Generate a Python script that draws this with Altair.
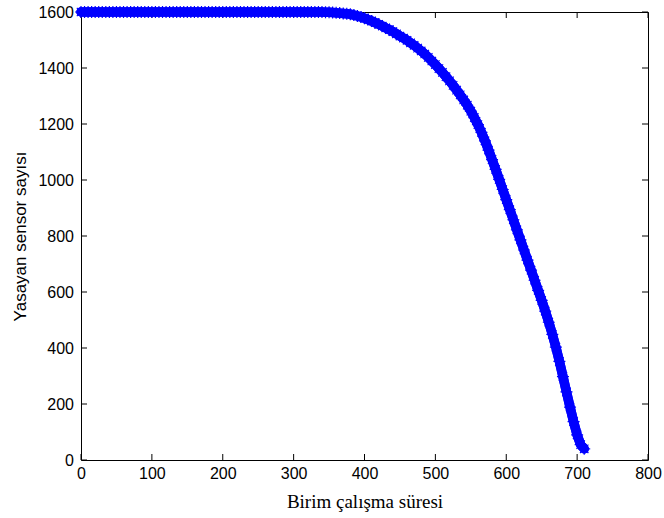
import altair as alt
import pandas as pd

# Simulation rounds (x) and alive sensor counts (y)
rounds = list(range(0, 715, 5))
alive = [
    1600, 1600, 1600, 1600, 1600, 1600, 1600, 1600, 1600, 1600,
    1600, 1600, 1600, 1600, 1600, 1600, 1600, 1600, 1600, 1600,
    1600, 1600, 1600, 1600, 1600, 1600, 1600, 1600, 1600, 1600,
    1600, 1600, 1600, 1600, 1600, 1600, 1600, 1600, 1600, 1600,
    1600, 1600, 1600, 1600, 1600, 1600, 1600, 1600, 1600, 1600,
    1600, 1600, 1600, 1600, 1600, 1600, 1600, 1600, 1600, 1600,
    1600, 1600, 1600, 1600, 1600, 1600,
    # 330 ..
    1600, 1600, 1600, 1599, 1599, 1598, 1597, 1596, 1595, 1594,
    1592, 1589, 1586, 1582, 1578, 1573, 1568, 1562, 1556, 1550,
    1543, 1537, 1530, 1522, 1514, 1507, 1499, 1490, 1481, 1471,
    1461, 1450, 1438, 1425, 1412, 1398, 1384, 1369, 1354, 1338,
    1321, 1304, 1286, 1267, 1246, 1223, 1198, 1170, 1140, 1107,
    1073, 1038, 1002, 966, 930, 894, 858, 822, 786, 750,
    714, 678, 642, 606, 570, 532, 492, 449, 403, 352,
    298, 243, 189, 137, 90, 55, 40,
]
x_ticks = [0, 100, 200, 300, 400, 500, 600, 700, 800]
y_ticks = [0, 200, 400, 600, 800, 1000, 1200, 1400, 1600]

df = pd.DataFrame({"r": rounds[: len(alive)], "n": alive})
xt = pd.DataFrame({"v": x_ticks})
yt = pd.DataFrame({"v": y_ticks})

W, H = 567, 448
TL = 6
BLUE = "#0000ff"

xs = alt.Scale(domain=[0, 800], nice=False, zero=False)
ys = alt.Scale(domain=[0, 1600], nice=False, zero=False)

x_axis = alt.Axis(
    values=x_ticks, format="d", title="Birim çalışma süresi", domain=False,
    ticks=False, grid=False, labelFlush=False, labelOverlap=False,
    labelFont="Liberation Sans", labelFontSize=16,
    labelColor="black", labelPadding=5, titleFont="Liberation Serif",
    titleFontSize=19, titleFontWeight="normal", titleColor="black",
    titleX=W / 2, titleY=47, titleBaseline="alphabetic", titleAlign="center",
)
y_axis = alt.Axis(
    values=y_ticks, format="d", title="Yasayan sensor sayısı", domain=False,
    ticks=False, grid=False, labelFlush=False, labelOverlap=False,
    labelFont="Liberation Sans", labelFontSize=16,
    labelColor="black", labelPadding=7.5, titleFont="Liberation Sans",
    titleFontSize=17, titleFontWeight="normal", titleColor="black",
    titleAngle=270, titleX=-61, titleY=H / 2, titleBaseline="middle",
    titleAlign="center",
)

line = alt.Chart(df).mark_line(
    color=BLUE, strokeWidth=9.5, strokeCap="round", strokeJoin="round"
).encode(
    x=alt.X("r:Q", scale=xs, axis=x_axis),
    y=alt.Y("n:Q", scale=ys, axis=y_axis),
)

star = "M-1,0L1,0M0,-1L0,1M-0.7,-0.7L0.7,0.7M-0.7,0.7L0.7,-0.7"
points = alt.Chart(df).mark_point(
    shape=star, size=144, color=BLUE, filled=False, strokeWidth=1.2, opacity=1
).encode(
    x=alt.X("r:Q", scale=xs, axis=x_axis),
    y=alt.Y("n:Q", scale=ys, axis=y_axis),
)

bottom_ticks = alt.Chart(xt).mark_rule(color="black", strokeWidth=1).encode(
    x=alt.X("v:Q", scale=xs, axis=x_axis), y=alt.value(H), y2=alt.value(H - TL)
)
top_ticks = alt.Chart(xt).mark_rule(color="black", strokeWidth=1).encode(
    x=alt.X("v:Q", scale=xs, axis=x_axis), y=alt.value(0), y2=alt.value(TL)
)
left_ticks = alt.Chart(yt).mark_rule(color="black", strokeWidth=1).encode(
    y=alt.Y("v:Q", scale=ys, axis=y_axis), x=alt.value(0), x2=alt.value(TL)
)
right_ticks = alt.Chart(yt).mark_rule(color="black", strokeWidth=1).encode(
    y=alt.Y("v:Q", scale=ys, axis=y_axis), x=alt.value(W - TL), x2=alt.value(W)
)

chart = alt.layer(
    line, bottom_ticks, top_ticks, left_ticks, right_ticks, line, points
).properties(
    width=W, height=H,
    autosize=alt.AutoSizeParams(type="none"),
    padding={"left": 81, "top": 12, "right": 16, "bottom": 58},
    background="white",
).configure_view(stroke="black", strokeWidth=1)

chart.save("out.html", embed_options={"renderer": "svg", "actions": False})
